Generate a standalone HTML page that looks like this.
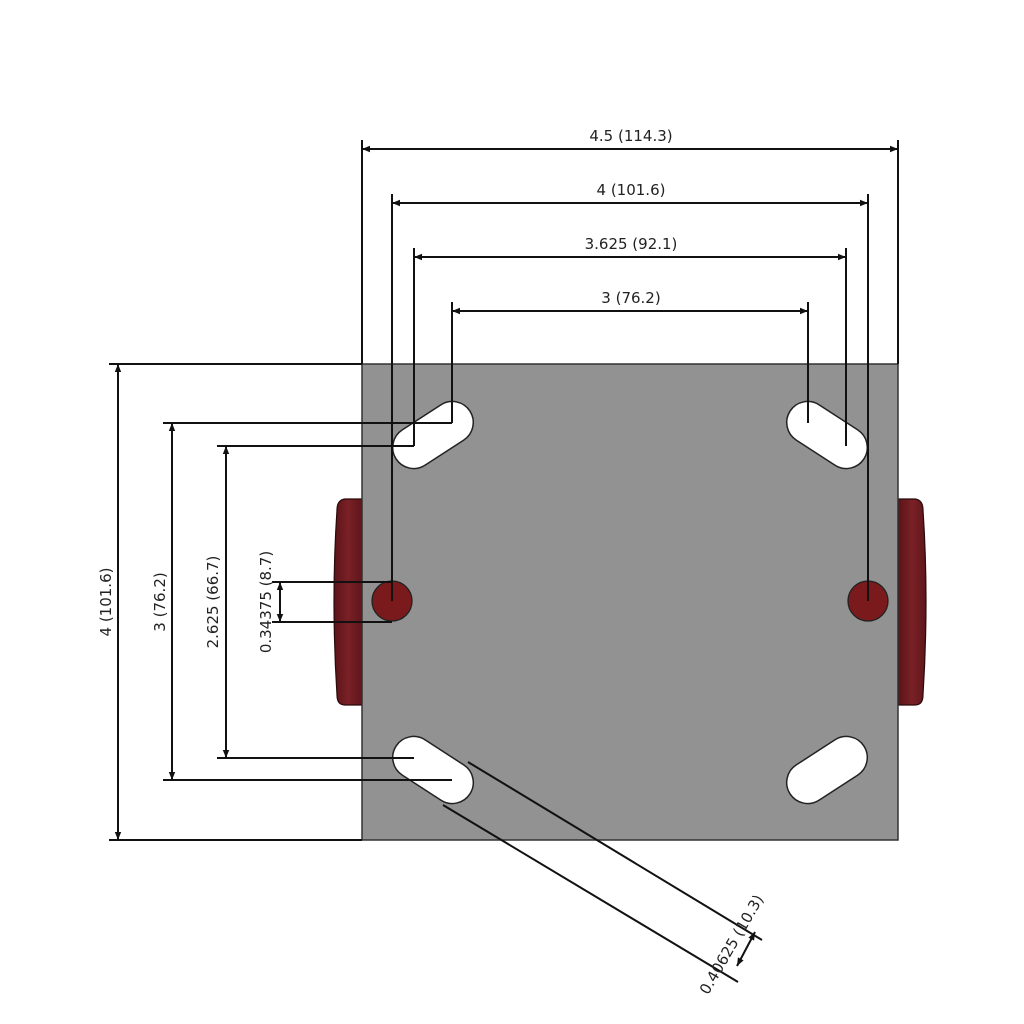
<!DOCTYPE html>
<html><head><meta charset="utf-8"><style>
html,body{margin:0;padding:0;background:#fff;width:1024px;height:1024px;overflow:hidden}
text{font-family:"DejaVu Sans","Liberation Sans",sans-serif;font-size:15px;fill:#222}
</style></head><body>
<svg width="1024" height="1024" viewBox="0 0 1024 1024" xmlns="http://www.w3.org/2000/svg">
<defs>
<marker id="a" viewBox="0 0 10 10" refX="10" refY="5" markerWidth="14" markerHeight="8" orient="auto-start-reverse" markerUnits="userSpaceOnUse">
<path d="M0,1 L10,5 L0,9 z" fill="#111"/></marker>
<linearGradient id="w" x1="0" x2="1"><stop offset="0" stop-color="#5a1418"/><stop offset="0.5" stop-color="#7a2026"/><stop offset="1" stop-color="#5e161a"/></linearGradient>
</defs>
<!-- wheels -->
<path d="M362,499 L345,499 Q337,500 337,510 Q331,600 337,695 Q337,705 345,705 L362,705 Z" fill="url(#w)" stroke="#2a0a0a" stroke-width="1.2"/>
<path d="M898,499 L915,499 Q923,500 923,510 Q929,600 923,695 Q923,705 915,705 L898,705 Z" fill="url(#w)" stroke="#2a0a0a" stroke-width="1.2"/>
<!-- plate -->
<rect x="362" y="364" width="536" height="476" fill="#929292" stroke="#333" stroke-width="1.5"/>
<!-- slots -->
<g fill="#fff" stroke="#222" stroke-width="1.5">
<rect x="-44" y="-21" width="88" height="42" rx="21" transform="translate(433,435) rotate(-33)"/>
<rect x="-44" y="-21" width="88" height="42" rx="21" transform="translate(827,435) rotate(33)"/>
<rect x="-44" y="-21" width="88" height="42" rx="21" transform="translate(433,770) rotate(33)"/>
<rect x="-44" y="-21" width="88" height="42" rx="21" transform="translate(827,770) rotate(-33)"/>
</g>
<!-- holes -->
<circle cx="392" cy="601" r="20" fill="#7a1a1c" stroke="#222" stroke-width="1.3"/>
<circle cx="868" cy="601" r="20" fill="#7a1a1c" stroke="#222" stroke-width="1.3"/>
<g stroke="#111" stroke-width="2" fill="none">
<!-- horizontal extension lines -->
<line x1="362" y1="140" x2="362" y2="364"/><line x1="898" y1="140" x2="898" y2="364"/>
<line x1="392" y1="194" x2="392" y2="601"/><line x1="868" y1="194" x2="868" y2="601"/>
<line x1="414" y1="248" x2="414" y2="446"/><line x1="846" y1="248" x2="846" y2="446"/>
<line x1="452" y1="302" x2="452" y2="423"/><line x1="808" y1="302" x2="808" y2="423"/>
<!-- horizontal dims -->
<line x1="362" y1="149" x2="898" y2="149" marker-start="url(#a)" marker-end="url(#a)"/>
<line x1="392" y1="203" x2="868" y2="203" marker-start="url(#a)" marker-end="url(#a)"/>
<line x1="414" y1="257" x2="846" y2="257" marker-start="url(#a)" marker-end="url(#a)"/>
<line x1="452" y1="311" x2="808" y2="311" marker-start="url(#a)" marker-end="url(#a)"/>
<!-- vertical extension lines -->
<line x1="109" y1="364" x2="362" y2="364"/><line x1="109" y1="840" x2="362" y2="840"/>
<line x1="163" y1="423" x2="452" y2="423"/><line x1="163" y1="780" x2="452" y2="780"/>
<line x1="217" y1="446" x2="414" y2="446"/><line x1="217" y1="758" x2="414" y2="758"/>
<line x1="272" y1="582" x2="392" y2="582"/><line x1="272" y1="622" x2="392" y2="622"/>
<!-- vertical dims -->
<line x1="118" y1="364" x2="118" y2="840" marker-start="url(#a)" marker-end="url(#a)"/>
<line x1="172" y1="423" x2="172" y2="780" marker-start="url(#a)" marker-end="url(#a)"/>
<line x1="226" y1="446" x2="226" y2="758" marker-start="url(#a)" marker-end="url(#a)"/>
<line x1="280" y1="582" x2="280" y2="622" marker-start="url(#a)" marker-end="url(#a)"/>
<!-- angled -->
<line x1="468" y1="762" x2="762" y2="940"/>
<line x1="443" y1="805" x2="738" y2="982"/>
<line x1="755" y1="932" x2="737" y2="966" marker-start="url(#a)" marker-end="url(#a)"/>
</g>
<text x="631" y="141" text-anchor="middle">4.5 (114.3)</text>
<text x="631" y="195" text-anchor="middle">4 (101.6)</text>
<text x="631" y="249" text-anchor="middle">3.625 (92.1)</text>
<text x="631" y="303" text-anchor="middle">3 (76.2)</text>
<text transform="translate(111,602) rotate(-90)" text-anchor="middle">4 (101.6)</text>
<text transform="translate(165,602) rotate(-90)" text-anchor="middle">3 (76.2)</text>
<text transform="translate(218,602) rotate(-90)" text-anchor="middle">2.625 (66.7)</text>
<text transform="translate(271,602) rotate(-90)" text-anchor="middle">0.34375 (8.7)</text>
<text transform="translate(736,947) rotate(-60)" text-anchor="middle">0.40625 (10.3)</text>
</svg>
</body></html>
